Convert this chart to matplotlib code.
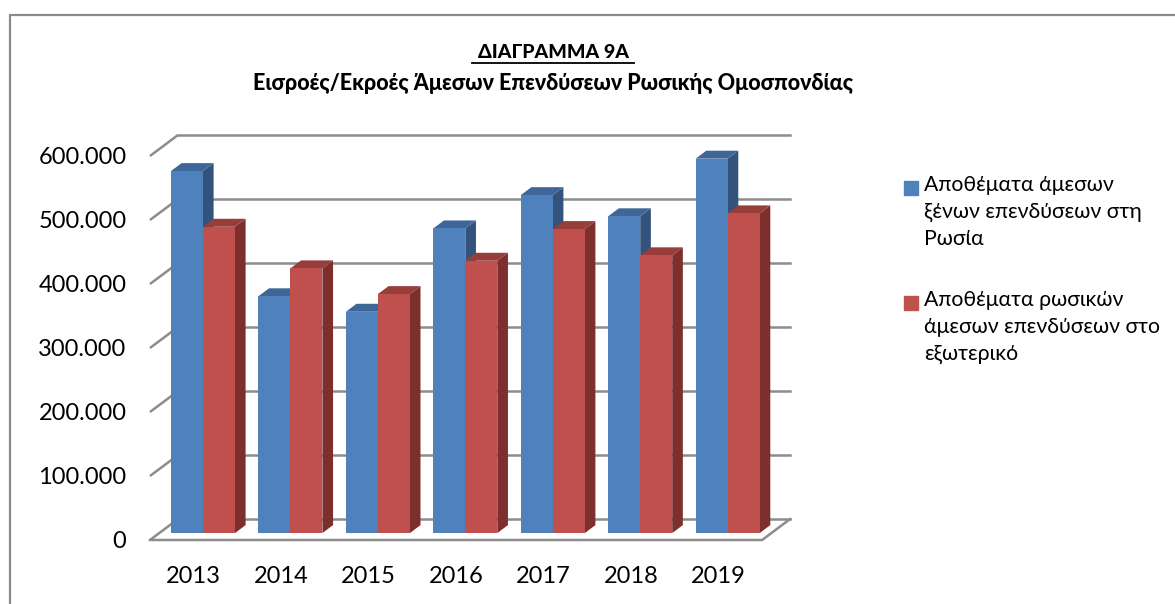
"""
ΔΙΑΓΡΑΜΜΑ 9Α — Εισροές/Εκροές Άμεσων Επενδύσεων Ρωσικής Ομοσπονδίας
Ψευδο-3D ραβδόγραμμα (στυλ Excel) με matplotlib.
"""

import matplotlib

matplotlib.use("Agg")
import matplotlib.pyplot as plt
from matplotlib.patches import Polygon
from matplotlib.lines import Line2D

# ── Δεδομένα ──────────────────────────────────────────────────────
years = ["2013", "2014", "2015", "2016", "2017", "2018", "2019"]
inward_stock = [565600, 370000, 345800, 476000, 528000, 495000, 585000]
outward_stock = [478600, 413600, 373400, 425500, 475000, 434000, 499500]
series_labels = [
    "Αποθέματα άμεσων\nξένων επενδύσεων στη\nΡωσία",
    "Αποθέματα ρωσικών\nάμεσων επενδύσεων στο\nεξωτερικό",
]
y_ticks = [0, 100000, 200000, 300000, 400000, 500000, 600000]

# ── Στυλ ──────────────────────────────────────────────────────────
FONT = ["Lato", "DejaVu Sans"]
plt.rcParams["font.family"] = FONT

COLORS = {
    "blue": ("#4F81BD", "#33527C", "#3E6698"),   # front, side, top
    "red": ("#C0504D", "#7D2F2D", "#973E3B"),
}
GRID = "#8C8C8C"

DEPTH_X = 0.32        # βάθος "δαπέδου" σε μονάδες κατηγορίας
DEPTH_Y = 32800       # βάθος "δαπέδου" σε μονάδες τιμής
BAR_D0, BAR_D1 = 0.33, 0.71
BAR_W = 0.366

fig = plt.figure(figsize=(11.75, 6.04), dpi=100, facecolor="white")
ax = fig.add_axes([150 / 1175, 64 / 604, 7.5 * 87.45 / 1175, 6.8 * 64 / 604])
ax.set_xlim(-0.5, 7.0)
ax.set_ylim(0, 680000)
for s in ax.spines.values():
    s.set_visible(False)
ax.patch.set_visible(False)

x0, x1 = -0.5, len(years) - 0.5

# ── Τοίχοι / πλέγμα ──────────────────────────────────────────────
for v in y_ticks:
    # πλάγιος τοίχος (αριστερά)
    ax.plot([x0, x0 + DEPTH_X], [v, v + DEPTH_Y], color=GRID, lw=1.8,
            zorder=1, clip_on=False, solid_capstyle="butt")
    # πίσω τοίχος
    ax.plot([x0 + DEPTH_X, x1 + DEPTH_X], [v + DEPTH_Y, v + DEPTH_Y],
            color=GRID, lw=1.8, zorder=1, clip_on=False)

# δάπεδο: μπροστινή και δεξιά ακμή
ax.plot([x0, x1, x1 + DEPTH_X], [0, 0, DEPTH_Y], color=GRID, lw=1.8,
        zorder=1, clip_on=False, solid_joinstyle="miter")


def draw_bar(x_left, value, colors):
    front, side, top = colors
    dx0, dy0 = BAR_D0 * DEPTH_X, BAR_D0 * DEPTH_Y
    dx1, dy1 = BAR_D1 * DEPTH_X, BAR_D1 * DEPTH_Y
    xl, xr = x_left + dx0, x_left + BAR_W + dx0
    yb, yt = dy0, value + dy0
    ddx, ddy = dx1 - dx0, dy1 - dy0
    side_poly = [(xr, yb), (xr + ddx, yb + ddy), (xr + ddx, yt + ddy), (xr, yt)]
    top_poly = [(xl, yt), (xr, yt), (xr + ddx, yt + ddy), (xl + ddx, yt + ddy)]
    ax.add_patch(Polygon(side_poly, closed=True, fc=side, ec="none", zorder=3))
    ax.add_patch(Polygon(top_poly, closed=True, fc=top, ec="none", zorder=3))
    ax.bar(xl, value, width=BAR_W, bottom=yb, align="edge", color=front,
           edgecolor="none", zorder=3)


for i in range(len(years)):
    draw_bar(i - BAR_W, inward_stock[i], COLORS["blue"])
    draw_bar(i, outward_stock[i], COLORS["red"])

# ── Άξονες ───────────────────────────────────────────────────────
ax.set_yticks(y_ticks)
ax.set_yticklabels([f"{v:,.0f}".replace(",", ".") for v in y_ticks])
ax.set_xticks(range(len(years)))
ax.set_xticklabels(years)
ax.tick_params(axis="y", length=0, pad=17, labelsize=17)
ax.tick_params(axis="x", length=0, pad=19, labelsize=17)

# ── Τίτλος ───────────────────────────────────────────────────────
fig.text(553 / 1175, 1 - 52 / 604, "ΔΙΑΓΡΑΜΜΑ 9Α", ha="center", va="center",
         fontsize=14, fontweight="black", family=FONT)
fig.add_artist(Line2D([472 / 1175, 634 / 1175], [1 - 63 / 604, 1 - 63 / 604],
                      color="black", lw=1.3))
fig.text(553 / 1175, 1 - 84 / 604,
         "Εισροές/Εκροές Άμεσων Επενδύσεων Ρωσικής Ομοσπονδίας",
         ha="center", va="center", fontsize=15.5, fontweight="black", family=FONT)

# ── Υπόμνημα ─────────────────────────────────────────────────────
legend_rows = [(188, COLORS["blue"][0]), (303, COLORS["red"][0])]
for (y_px, col), label in zip(legend_rows, series_labels):
    fig.patches.append(plt.Rectangle((904 / 1175, 1 - (y_px + 7) / 604),
                                     14 / 1175, 14 / 604, color=col,
                                     transform=fig.transFigure, figure=fig))
    fig.text(924 / 1175, 1 - (y_px - 13) / 604, label, ha="left", va="top",
             fontsize=15.3, linespacing=1.42, family=FONT)

# ── Πλαίσιο γραφήματος ───────────────────────────────────────────
fig.add_artist(Line2D([10 / 1175, 10 / 1175, 1.0], [0.0, 1 - 15 / 604, 1 - 15 / 604],
                      color="#8A8A8A", lw=1.6))

fig.savefig("out.png", dpi=100, facecolor="white")
